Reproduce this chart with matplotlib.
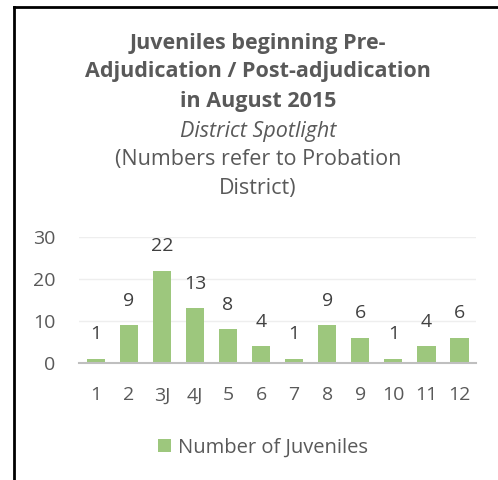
import matplotlib.pyplot as plt
from matplotlib.lines import Line2D

districts = ['1', '2', '3J', '4J', '5', '6', '7', '8', '9', '10', '11', '12']
juveniles = [1, 9, 22, 13, 8, 4, 1, 9, 6, 1, 4, 6]

plt.rcParams['font.family'] = ['Open Sans', 'DejaVu Sans']

fig = plt.figure(figsize=(4.98, 4.80), dpi=100)
ax = fig.add_axes([0.159, 0.244, 0.797, 0.262])

bars = ax.bar(range(len(districts)), juveniles, width=0.55, color='#9DC77D',
              label='Number of Juveniles', zorder=2)
for i, v in enumerate(juveniles):
    ax.annotate(str(v), (i, v), textcoords='offset points', xytext=(0, 11),
                ha='center', va='bottom', fontsize=14, color='#404040')

ax.set_ylim(0, 30)
ax.set_xlim(-0.5, len(districts) - 0.5)
ax.set_yticks([0, 10, 20, 30])
ax.set_xticks(range(len(districts)))
ax.set_xticklabels(districts)
ax.tick_params(axis='both', length=0, labelsize=14, colors='#595959')
ax.tick_params(axis='y', pad=17)
ax.tick_params(axis='x', pad=17)
ax.yaxis.grid(True, color='#EEEEEE', linewidth=1, zorder=0)
for s in ['top', 'right', 'left']:
    ax.spines[s].set_visible(False)
ax.spines['bottom'].set_color('#BFBFBF')
ax.spines['bottom'].set_linewidth(1.5)

leg = fig.legend(handles=[bars], loc='center', bbox_to_anchor=(0.528, 0.068),
                 frameon=False, fontsize=14.5, handlelength=0.65, handleheight=0.65,
                 handletextpad=0.3)
for t in leg.get_texts():
    t.set_color('#595959')

# title block
tc = '#595959'
fs = 15.5
cx = 0.518
fig.text(cx, 0.910, 'Juveniles beginning Pre-', ha='center', va='center',
         fontsize=fs, fontweight='bold', color=tc)
fig.text(cx, 0.850, 'Adjudication / Post-adjudication', ha='center', va='center',
         fontsize=fs, fontweight='bold', color=tc)
fig.text(cx, 0.788, 'in August 2015', ha='center', va='center',
         fontsize=fs, fontweight='bold', color=tc)
fig.text(cx, 0.725, 'District Spotlight', ha='center', va='center',
         fontsize=fs, style='italic', color=tc)
fig.text(cx, 0.667, '(Numbers refer to Probation', ha='center', va='center',
         fontsize=fs, color=tc)
fig.text(cx, 0.608, 'District)', ha='center', va='center',
         fontsize=fs, color=tc)

# border on top and left
fig.add_artist(Line2D([14 / 498, 1], [1 - 7 / 480, 1 - 7 / 480],
                      transform=fig.transFigure, color='black', linewidth=2))
fig.add_artist(Line2D([14 / 498, 14 / 498], [0, 1 - 7 / 480],
                      transform=fig.transFigure, color='black', linewidth=2))

fig.savefig('out.png', dpi=100)
